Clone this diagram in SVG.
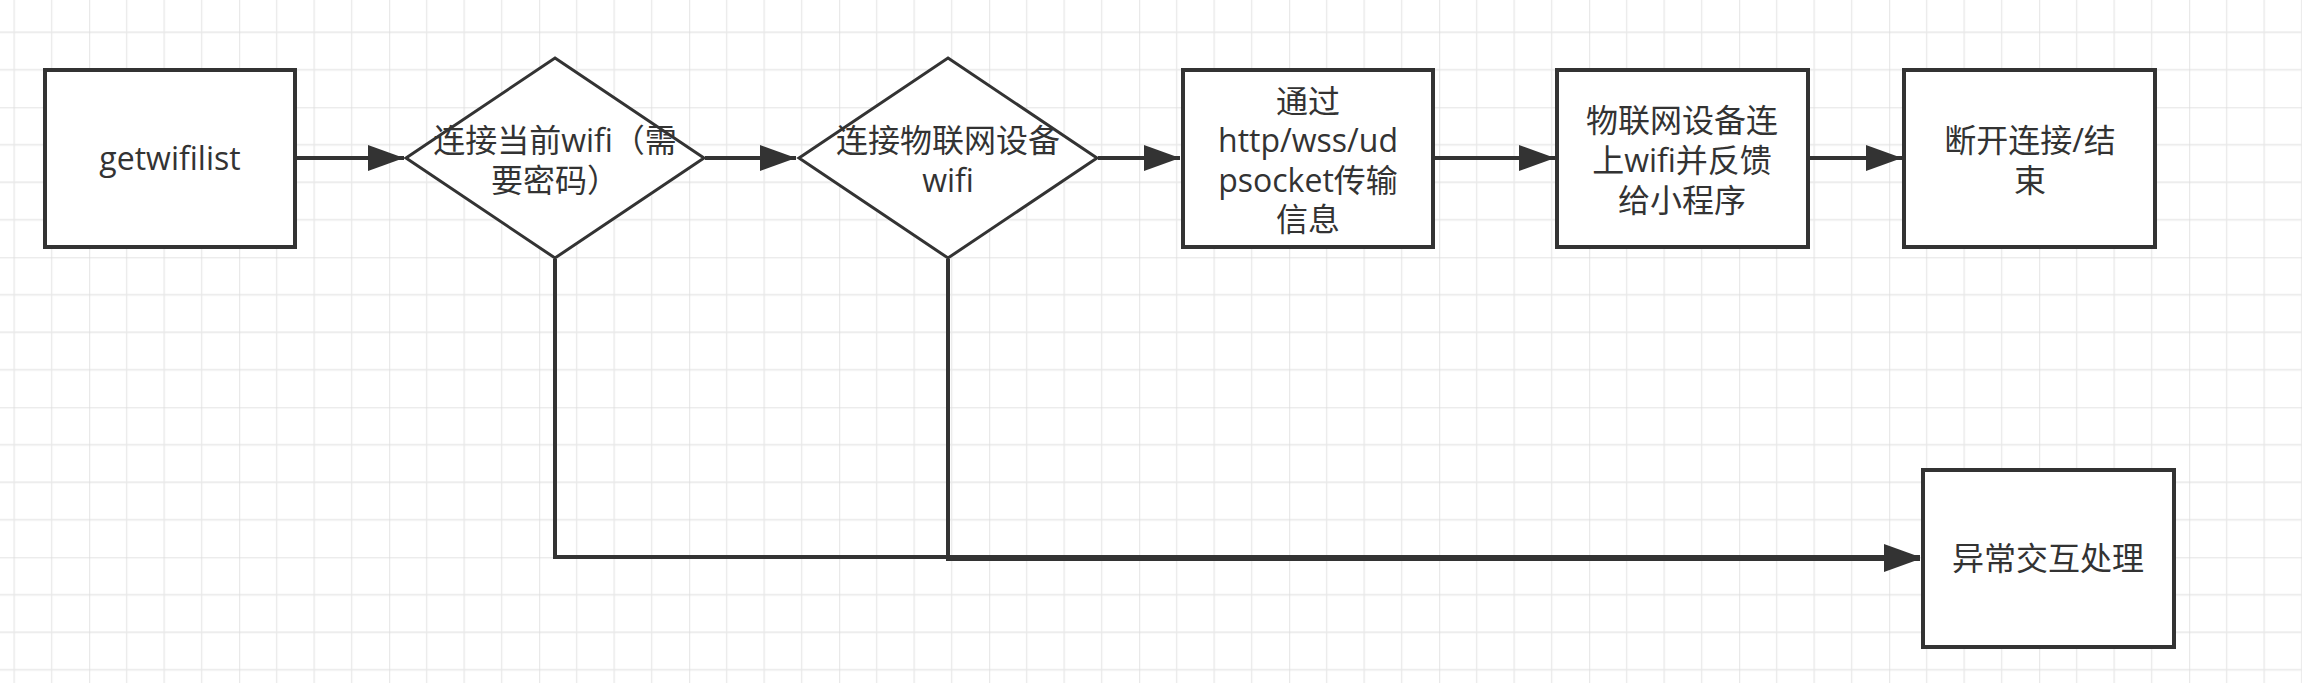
<svg xmlns="http://www.w3.org/2000/svg" width="2302" height="683" viewBox="0 0 2302 683">
<defs>
<style>
.box{fill:#fff;stroke:#333;stroke-width:4}
.dia{fill:#fff;stroke:#333;stroke-width:3}
.lbl{font-family:"Open Sans","Noto Sans CJK SC",sans-serif;font-size:32px;fill:#333;text-anchor:middle}
.con{fill:none;stroke:#333;stroke-width:4}
</style>
<pattern id="grid" patternUnits="userSpaceOnUse" x="89.2" y="107.3" width="150" height="150">
<path d="M37.5,0V150M75,0V150M112.5,0V150M0,37.5H150M0,75H150M0,112.5H150" stroke="#e8e8e8" stroke-width="1.3" fill="none"/>
<path d="M0,0V150M0,0H150" stroke="#dcdcdc" stroke-width="1.5" fill="none"/>
</pattern>
<marker id="arr" markerUnits="userSpaceOnUse" markerWidth="36" markerHeight="26" refX="36" refY="13" orient="auto">
<path d="M0,0L36,13L0,26z" fill="#333"/>
</marker>
</defs>
<rect width="2302" height="683" fill="#fff"/>
<rect width="2302" height="683" fill="url(#grid)"/>
<g id="connectors">
<path class="con" d="M297,158H404" marker-end="url(#arr)"/>
<path class="con" d="M705,158H796" marker-end="url(#arr)"/>
<path class="con" d="M1098,158H1180" marker-end="url(#arr)"/>
<path class="con" d="M1435,158H1555" marker-end="url(#arr)"/>
<path class="con" d="M1810,158H1902" marker-end="url(#arr)"/>
<path class="con" d="M555,259V557H1920" marker-end="url(#arr)"/>
<path class="con" d="M948,259V559H1920" marker-end="url(#arr)"/>
</g>
<g id="getwifilist">
<rect class="box" x="45" y="70" width="250" height="177"/>
<text class="lbl" x="170" y="170">getwifilist</text>
</g>
<g id="connect-current-wifi">
<polygon class="dia" points="555,58 704,158 555,258 406,158"/>
<text class="lbl"><tspan x="555" y="152">连接当前wifi（需</tspan><tspan x="555" y="192">要密码）</tspan></text>
</g>
<g id="connect-iot-wifi">
<polygon class="dia" points="948,58 1097,158 948,258 799,158"/>
<text class="lbl"><tspan x="948" y="152">连接物联网设备</tspan><tspan x="948" y="192">wifi</tspan></text>
</g>
<g id="transfer">
<rect class="box" x="1183" y="70" width="250" height="177"/>
<text class="lbl"><tspan x="1308" y="113">通过</tspan><tspan x="1308" y="152">http/wss/ud</tspan><tspan x="1308" y="192">psocket传输</tspan><tspan x="1308" y="231">信息</tspan></text>
</g>
<g id="feedback">
<rect class="box" x="1557" y="70" width="251" height="177"/>
<text class="lbl"><tspan x="1682" y="132">物联网设备连</tspan><tspan x="1682" y="172">上wifi并反馈</tspan><tspan x="1682" y="212">给小程序</tspan></text>
</g>
<g id="disconnect">
<rect class="box" x="1904" y="70" width="251" height="177"/>
<text class="lbl"><tspan x="2030" y="152">断开连接/结</tspan><tspan x="2030" y="192">束</tspan></text>
</g>
<g id="exception">
<rect class="box" x="1923" y="470" width="251" height="177"/>
<text class="lbl" x="2048" y="570">异常交互处理</text>
</g>
</svg>
